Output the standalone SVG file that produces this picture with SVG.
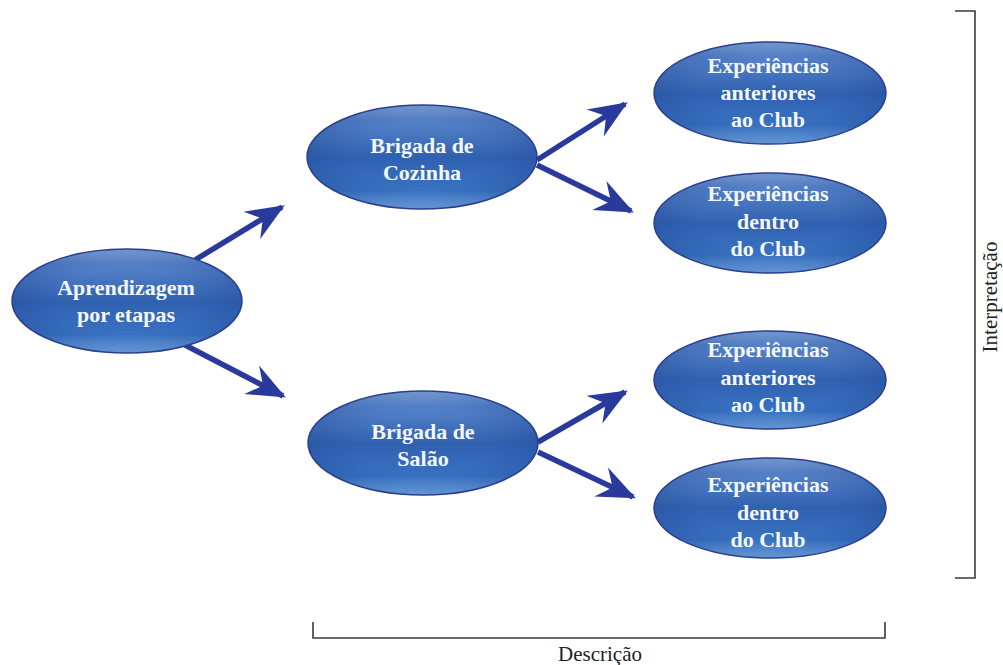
<svg xmlns="http://www.w3.org/2000/svg" width="1003" height="665" viewBox="0 0 1003 665">
  <defs>
    <linearGradient id="bubble" x1="0" y1="0" x2="0" y2="1">
      <stop offset="0" stop-color="#8db0e0"/>
      <stop offset="0.14" stop-color="#5885cb"/>
      <stop offset="0.5" stop-color="#3061b0"/>
      <stop offset="0.82" stop-color="#3872c2"/>
      <stop offset="1" stop-color="#7ab0ea"/>
    </linearGradient>
    <radialGradient id="shade" cx="0.5" cy="0.5" r="0.5">
      <stop offset="0.6" stop-color="#1d3f8a" stop-opacity="0"/>
      <stop offset="1" stop-color="#1d3f8a" stop-opacity="0.25"/>
    </radialGradient>
    <marker id="head" viewBox="0 0 12 10" refX="11" refY="5" markerWidth="7" markerHeight="7" markerUnits="strokeWidth" orient="auto">
      <path d="M0,0 L12,5 L0,10 L4,5 Z" fill="#2a3a9c"/>
    </marker>
  </defs>
  <style>
    .node ellipse.body { fill: url(#bubble); stroke: #2b3f8e; stroke-width: 1.5; }
    .node ellipse.rim { fill: url(#shade); }
    .node text { font-family: "Liberation Serif", "DejaVu Serif", serif; font-weight: bold; font-size: 22px; fill: #f4f7fc; text-anchor: middle; }
    .edge { stroke: #2a3a9c; stroke-width: 5.5; fill: none; marker-end: url(#head); }
    .bracket { stroke: #3a3a3a; stroke-width: 1.6; fill: none; }
    .label { font-family: "Liberation Serif", "DejaVu Serif", serif; font-size: 21px; fill: #222; text-anchor: middle; }
  </style>
  <rect width="1003" height="665" fill="#ffffff"/>

  <g id="connectors">
    <line class="edge" x1="195" y1="260" x2="282" y2="207"/>
    <line class="edge" x1="185" y1="345" x2="283" y2="396"/>
    <line class="edge" x1="537" y1="160" x2="625" y2="104"/>
    <line class="edge" x1="537" y1="165" x2="631" y2="211"/>
    <line class="edge" x1="538" y1="442" x2="625" y2="392"/>
    <line class="edge" x1="538" y1="452" x2="633" y2="497"/>
  </g>

  <g id="n-aprendizagem" class="node">
    <ellipse class="body" cx="127" cy="301" rx="115" ry="52"/>
    <ellipse class="rim" cx="127" cy="301" rx="115" ry="52"/>
    <text x="126" y="295">Aprendizagem</text>
    <text x="126" y="322">por etapas</text>
  </g>

  <g id="n-cozinha" class="node">
    <ellipse class="body" cx="422" cy="157" rx="115" ry="52"/>
    <ellipse class="rim" cx="422" cy="157" rx="115" ry="52"/>
    <text x="422" y="153">Brigada de</text>
    <text x="422" y="180">Cozinha</text>
  </g>

  <g id="n-salao" class="node">
    <ellipse class="body" cx="423" cy="443" rx="115" ry="52"/>
    <ellipse class="rim" cx="423" cy="443" rx="115" ry="52"/>
    <text x="423" y="439">Brigada de</text>
    <text x="423" y="466">Salão</text>
  </g>

  <g id="n-cozinha-anteriores" class="node">
    <ellipse class="body" cx="770" cy="93" rx="116" ry="51"/>
    <ellipse class="rim" cx="770" cy="93" rx="116" ry="51"/>
    <text x="768" y="73">Experiências</text>
    <text x="768" y="100">anteriores</text>
    <text x="768" y="127">ao Club</text>
  </g>

  <g id="n-cozinha-dentro" class="node">
    <ellipse class="body" cx="770" cy="223" rx="116" ry="50"/>
    <ellipse class="rim" cx="770" cy="223" rx="116" ry="50"/>
    <text x="768" y="201">Experiências</text>
    <text x="768" y="229">dentro</text>
    <text x="768" y="256">do Club</text>
  </g>

  <g id="n-salao-anteriores" class="node">
    <ellipse class="body" cx="770" cy="380" rx="116" ry="49"/>
    <ellipse class="rim" cx="770" cy="380" rx="116" ry="49"/>
    <text x="768" y="357">Experiências</text>
    <text x="768" y="385">anteriores</text>
    <text x="768" y="412">ao Club</text>
  </g>

  <g id="n-salao-dentro" class="node">
    <ellipse class="body" cx="770" cy="508" rx="116" ry="50"/>
    <ellipse class="rim" cx="770" cy="508" rx="116" ry="50"/>
    <text x="768" y="492">Experiências</text>
    <text x="768" y="520">dentro</text>
    <text x="768" y="547">do Club</text>
  </g>

  <g id="descricao">
    <path class="bracket" d="M313,622 V638 H885 V622"/>
    <text class="label" x="600" y="661">Descrição</text>
  </g>

  <g id="interpretacao">
    <path class="bracket" d="M955,11 H975 V578 H955"/>
    <text class="label" transform="translate(997,297) rotate(-90)">Interpretação</text>
  </g>
</svg>
